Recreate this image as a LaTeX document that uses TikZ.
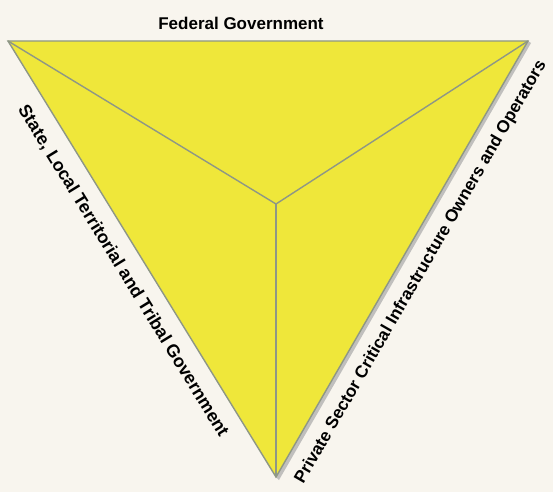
\documentclass[tikz,border=0pt]{standalone}
\usepackage{fontspec}
\setmainfont{Liberation Sans}
\definecolor{bgc}{HTML}{F8F5EE}
\definecolor{triy}{HTML}{EFE73A}
\definecolor{edgec}{HTML}{8E9786}
\definecolor{shadowc}{HTML}{A9A9A9}
\tikzset{
  lbl/.style={font=\bfseries\fontsize{17.8}{18}\selectfont, inner sep=0pt, text=black},
  edgeline/.style={draw=edgec, line width=1.4pt},
}
\begin{document}
\begin{tikzpicture}[x=1pt,y=-1pt]
\fill[bgc] (0,0) rectangle (553,492);
\useasboundingbox (0,0) rectangle (553,492);
\coordinate (A) at (8,41);
\coordinate (B) at (528,41);
\coordinate (C) at (276,477);
\coordinate (O) at (276,204);
% shadow
\fill[shadowc, opacity=0.7] ([xshift=3pt,yshift=-2pt]B) -- ([xshift=3pt,yshift=-3pt]C) -- (C) -- (B) -- cycle;
\fill[triy] (A) -- (B) -- (C) -- cycle;
\draw[edgeline] (A) -- (B) -- (C) -- cycle;
\draw[edgeline] (A) -- (O);
\draw[edgeline] (B) -- (O);
\draw[edgeline] (C) -- (O);
\node[lbl, anchor=base] (fed) at (241,30) {\fontsize{17}{17}\selectfont Federal Government};
\node[lbl, rotate=-58.4] (slt) at (123,271) {State, Local Territorial and Tribal Government};
\node[lbl, rotate=59.97, font=\bfseries\fontsize{17.2}{18}\selectfont] (pri) at (421,272) {Private Sector Critical Infrastructure Owners and Operators};
\end{tikzpicture}
\end{document}
